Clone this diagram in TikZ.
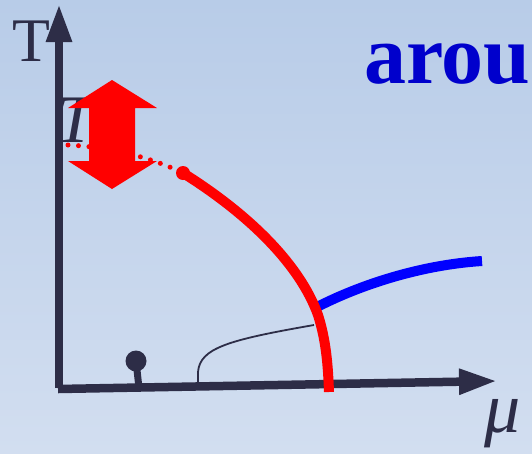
\documentclass[tikz,border=0pt]{standalone}
\usepackage{fontspec}
\setmainfont{Liberation Serif}
\usetikzlibrary{arrows.meta}
\definecolor{ink}{HTML}{2D2D47}
\definecolor{hot}{HTML}{FF0000}
\definecolor{cold}{HTML}{0000FF}
\definecolor{title}{HTML}{0000CC}
\definecolor{bgtop}{HTML}{B8CCE8}
\definecolor{bgbot}{HTML}{D2DEF0}

\begin{document}
\begin{tikzpicture}[
  x=1pt,y=-1pt,
  axis/.style={-{Triangle[length=38pt,width=24pt]},line width=8.5pt,draw=ink},
  crit/.style={line width=10pt,draw=hot},
  firstorder/.style={line width=10pt,draw=cold},
  thin/.style={line width=1.8pt,draw=ink},
  dots/.style={draw=hot,line width=5pt,line cap=round,dash pattern=on 0pt off 10.5pt},
  label/.style={inner sep=0pt,text=ink}
]
\useasboundingbox (0,0) rectangle (532,453);
\fill[top color=bgtop,bottom color=bgbot] (0,0) rectangle (532,453);

% axes
\coordinate (origin) at (59,388);
\coordinate (tup) at (59,4);
\coordinate (xstart) at (58,389);
\coordinate (tright) at (497,381);
\draw[axis] (origin) -- (tup);
\draw[axis] (xstart) -- (tright);
\node[label,font=\fontsize{62}{62}\selectfont,anchor=base west] (tlabel) at (12,61) {T};
\node[label,font=\fontsize{72}{72}\selectfont\itshape,anchor=base west] (mulabel) at (484,432) {μ};
\node[inner sep=0pt,text=title,font=\fontsize{84}{84}\selectfont\bfseries,anchor=base west] (title) at (364,83) {arou};

% T_c behind the arrow
\node[label,font=\fontsize{68}{68}\selectfont\itshape,anchor=base west] (tc) at (56,142) {T};
\coordinate (tcpt) at (68,145);
\coordinate (cep) at (183,173);
\draw[dots] (tcpt) .. controls (110,147) and (150,157) .. (cep);

% double arrow
\fill[hot] (112,80) -- (157,108) -- (135,108) -- (135,161) -- (157,161) -- (112,189)
  -- (68,161) -- (89,161) -- (89,108) -- (68,108) -- cycle;

% lines
\coordinate (meet) at (317,307);
\coordinate (bend) at (318,315);
\coordinate (foot) at (329,392);
\draw[thin] (198,384) -- (198,372) .. controls (200,348) and (228,340) .. (314,325);
\draw[firstorder] (meet) .. controls (360,285) and (420,265) .. (482,261);
\draw[crit] (cep) .. controls (250,215) and (300,265) .. (bend)
  .. controls (326,340) and (328,365) .. (foot);
\fill[hot] (cep) circle (7);

% small lollipop
\coordinate (pin) at (136,361);
\draw[ink,line width=7pt] (pin) -- (139,388);
\fill[ink] (pin) circle (10.5);
\end{tikzpicture}
\end{document}
